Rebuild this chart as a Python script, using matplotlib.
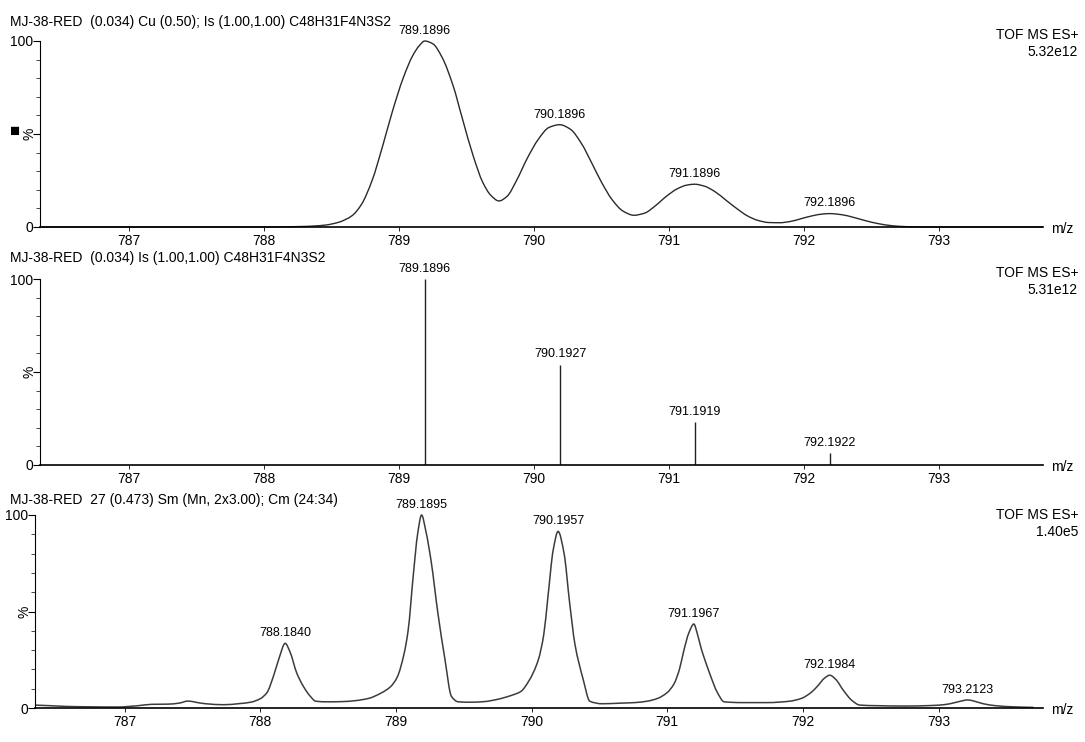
import matplotlib.pyplot as plt
import numpy as np
from matplotlib.path import Path
from matplotlib.patches import PathPatch

plt.rcParams['font.family'] = ['Liberation Sans', 'DejaVu Sans']

# calculated isotope pattern, smoothed profile (m/z, %)
calc_mz = [786.34, 787.0, 787.5, 788.0, 788.3, 788.45, 788.55, 788.65, 788.72,
           788.8, 788.88, 788.95, 789.03, 789.1, 789.15, 789.1896, 789.25,
           789.32, 789.4, 789.47, 789.55, 789.62, 789.68, 789.74, 789.8, 789.87,
           789.95, 790.03, 790.11, 790.1896, 790.27, 790.35, 790.43, 790.5,
           790.58, 790.66, 790.74, 790.82, 790.9, 790.98, 791.06, 791.13,
           791.1896, 791.26, 791.34, 791.42, 791.5, 791.58, 791.66, 791.74,
           791.82, 791.9, 791.98, 792.06, 792.14, 792.1896, 792.28, 792.36,
           792.45, 792.55, 792.65, 792.75, 792.9, 793.77]
calc_int = [0, 0, 0, 0, 0.3, 1, 2.5, 6, 12,
            25, 44, 62, 80, 92, 97.5, 100, 98.5,
            91, 76, 58, 38, 24, 17, 14, 16.5, 25,
            37, 47, 53.5, 55, 52.5, 45, 34, 24,
            14.5, 8.5, 6.3, 7.5, 11.5, 16.5, 20.5, 22.5,
            23, 22, 19, 14.5, 10, 6, 3.5, 2.4,
            2.3, 3, 4.5, 6, 7, 7.2, 6.6, 5.3,
            3.5, 1.8, 0.7, 0.2, 0, 0]
calc_peaks = [789.1896, 790.1896, 791.1896, 792.1896]
calc_peak_int = [100, 55, 23, 7.2]

# theoretical stick spectrum
stick_mz = [789.1896, 790.1927, 791.1919, 792.1922]
stick_int = [100, 54, 23, 6.5]

# measured spectrum, scan 27 combined 24:34
meas_mz = [786.34, 786.45, 786.58, 786.75, 786.95, 787.1, 787.2, 787.32, 787.4,
           787.47, 787.53, 787.6, 787.73, 787.85, 787.93, 788.0, 788.05, 788.1,
           788.14, 788.184, 788.22, 788.27, 788.32, 788.37, 788.41, 788.5,
           788.6, 788.7, 788.8, 788.89, 788.96, 789.01, 789.06, 789.09, 789.13,
           789.16, 789.1895, 789.22, 789.26, 789.31, 789.36, 789.41, 789.46,
           789.55, 789.65, 789.75, 789.85, 789.92, 789.98, 790.05, 790.09,
           790.12, 790.16, 790.1957, 790.24, 790.28, 790.32, 790.38, 790.43,
           790.52, 790.65, 790.76, 790.85, 790.93, 791.0, 791.05, 791.09,
           791.12, 791.16, 791.1967, 791.22, 791.25, 791.31, 791.37, 791.42,
           791.55, 791.74, 791.9, 791.99, 792.06, 792.11, 792.16, 792.1984,
           792.24, 792.3, 792.36, 792.42, 792.55, 792.75, 792.95, 793.05,
           793.12, 793.18, 793.2123, 793.26, 793.33, 793.42, 793.55, 793.7]
meas_int = [1.5, 1.2, 0.8, 0.6, 0.5, 1.2, 1.9, 2.0, 2.5,
            3.6, 2.9, 2.2, 1.7, 2.3, 3.0, 4.8, 8, 17,
            26, 33.5, 29, 18, 11, 6, 3.5, 3.2,
            3.3, 3.8, 5, 7.7, 11, 16, 28, 40, 70,
            90, 100, 92, 76, 49, 26, 6, 3.2,
            3.0, 3.3, 4.5, 6.5, 8.5, 14, 25, 38,
            57, 82, 91.5, 80, 55, 33, 15, 3.5,
            2.2, 2.5, 2.8, 3.5, 5, 8, 12.5, 20,
            29, 39, 43.5, 39, 31, 18.5, 8, 3.2,
            2.8, 2.8, 3.5, 5, 8, 11.5, 15.5, 17,
            15, 9, 4, 1.5, 1.2, 1.0, 1.3, 1.8,
            2.8, 3.8, 4.2, 3.6, 2.2, 1.2, 0.6, 0.3]
meas_peaks = [788.1840, 789.1895, 790.1957, 791.1967, 792.1984, 793.2123]
meas_peak_int = [33.5, 100, 91.5, 43.5, 17, 4.2]

titles = ['MJ-38-RED  (0.034) Cu (0.50); Is (1.00,1.00) C48H31F4N3S2',
          'MJ-38-RED  (0.034) Is (1.00,1.00) C48H31F4N3S2',
          'MJ-38-RED  27 (0.473) Sm (Mn, 2x3.00); Cm (24:34)']
instrument = 'TOF MS ES+'
scales = ['5.32e12', '5.31e12', '1.40e5']
x_ticks = [787, 788, 789, 790, 791, 792, 793]

W, H = 1085, 742
fig = plt.figure(figsize=(W / 100, H / 100), dpi=100)


def px_axes(left, right, top, bottom):
    return fig.add_axes([left / W, 1 - bottom / H,
                         (right - left) / W, (bottom - top) / H])


ax1 = px_axes(40, 1043, 41, 227)
ax2 = px_axes(40, 1043, 279, 465)
ax3 = px_axes(35, 1043, 515, 708)
axes = [ax1, ax2, ax3]


def setup(ax):
    ax.set_xlim(786.34, 793.77)
    ax.set_ylim(0, 100)
    ax.spines['top'].set_visible(False)
    ax.spines['right'].set_visible(False)
    ax.spines['left'].set_linewidth(0.8)
    ax.spines['bottom'].set_linewidth(1.2)
    ax.set_xticks(x_ticks)
    ax.tick_params(axis='x', direction='out', length=3, width=0.6,
                   labelsize=10, pad=2)
    ax.set_yticks([0, 50, 100])
    ax.set_yticklabels(['0', '', '100'])
    ax.set_yticks(np.arange(10, 100, 10), minor=True)
    ax.tick_params(axis='y', which='major', length=5, width=0.8,
                   labelsize=10, pad=0)
    ax.tick_params(axis='y', which='minor', length=3, width=0.5)
    ax.text(-0.003, 0.5, '%', rotation=90, transform=ax.transAxes,
            ha='right', va='center', fontsize=10)
    ax.text(1.008, -0.01, 'm/z', transform=ax.transAxes,
            ha='left', va='center', fontsize=10)


for ax in axes:
    setup(ax)


def smooth_line(ax, x, y, **kw):
    # monotone cubic through the points, drawn as Bezier segments
    x = np.asarray(x, float)
    y = np.asarray(y, float)
    h = np.diff(x)
    d = np.diff(y) / h
    m = np.zeros_like(y)
    m[0], m[-1] = d[0], d[-1]
    for i in range(1, len(x) - 1):
        if d[i - 1] * d[i] > 0:
            w1 = 2 * h[i] + h[i - 1]
            w2 = h[i] + 2 * h[i - 1]
            m[i] = (w1 + w2) / (w1 / d[i - 1] + w2 / d[i])
    verts = [(x[0], y[0])]
    codes = [Path.MOVETO]
    for i in range(len(x) - 1):
        verts += [(x[i] + h[i] / 3, y[i] + m[i] * h[i] / 3),
                  (x[i + 1] - h[i] / 3, y[i + 1] - m[i + 1] * h[i] / 3),
                  (x[i + 1], y[i + 1])]
        codes += [Path.CURVE4] * 3
    ax.add_patch(PathPatch(Path(verts, codes), fill=False, clip_on=False, **kw))


def peak_labels(ax, mz, inten):
    for m, v in zip(mz, inten):
        ax.annotate(f'{m:.4f}', (m, v), xytext=(0, 3),
                    textcoords='offset points', ha='center', va='bottom',
                    fontsize=9, annotation_clip=False)


smooth_line(ax1, calc_mz, calc_int, edgecolor='#2a2a2a', lw=1.0)
peak_labels(ax1, calc_peaks, calc_peak_int)

ax2.vlines(stick_mz, 0, stick_int, color='#222222', lw=1.0)
peak_labels(ax2, stick_mz, stick_int)

smooth_line(ax3, meas_mz, meas_int, edgecolor='#3c3c3c', lw=1.1)
peak_labels(ax3, meas_peaks, meas_peak_int)

# header lines and instrument/intensity info
title_y = [22, 258, 500]
tof_y = [35, 273, 515]
for ty, oy, t, s in zip(title_y, tof_y, titles, scales):
    fig.text(10 / W, 1 - ty / H, t, ha='left', va='center', fontsize=10)
    fig.text(1078 / W, 1 - oy / H, instrument, ha='right', va='center',
             fontsize=10)
    fig.text(1078 / W, 1 - (oy + 17) / H, s, ha='right', va='center',
             fontsize=10)

fig.text(15 / W, 1 - 131 / H, '\u25a0', ha='center', va='center', fontsize=12)

fig.savefig('out.png', dpi=100)
